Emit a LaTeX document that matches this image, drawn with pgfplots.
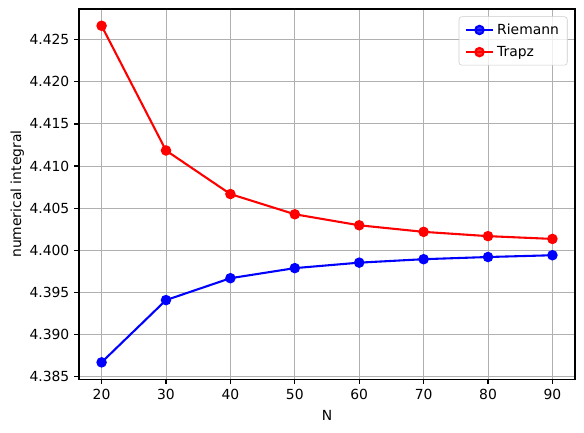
\documentclass[border=0pt]{standalone}
\usepackage{pgfplots}
\pgfplotsset{compat=1.18}
\usepackage{fontspec}
\setmainfont{DejaVu Sans}
\definecolor{gridgray}{HTML}{B0B0B0}
\definecolor{legedge}{HTML}{CCCCCC}
\begin{document}
\begin{tikzpicture}
\begin{axis}[
  scale only axis,
  width=357pt, height=266.4pt,
  xmin=16.5, xmax=93.5,
  ymin=4.38468, ymax=4.42866,
  xtick={20,30,...,90},
  ytick={4.385,4.390,4.395,4.400,4.405,4.410,4.415,4.420,4.425},
  scaled y ticks=false,
  yticklabel style={/pgf/number format/.cd, fixed, fixed zerofill, precision=3},
  /pgf/number format/assume math mode=true,
  tick label style={font=\fontsize{10}{12}\selectfont},
  label style={font=\fontsize{10}{12}\selectfont},
  xlabel={N}, ylabel={numerical integral},
  xlabel style={yshift=-1pt},
  ylabel style={yshift=-3pt},
  grid=major,
  major grid style={gridgray, line width=0.7pt},
  axis line style={line width=0.8pt},
  tick align=outside,
  major tick length=3.5pt,
  every tick/.style={black, line width=0.8pt},
  xtick pos=bottom, ytick pos=left,
  legend style={font=\fontsize{10}{12}\selectfont, draw=legedge, rounded corners=2pt, fill=white, fill opacity=0.8, text opacity=1, at={(0.985,0.98)}, anchor=north east, inner xsep=4pt, inner ysep=3pt, row sep=3pt},
  legend cell align=left,
  legend image code/.code={
    \draw[#1, mark repeat=2, mark phase=2] plot coordinates {(0pt,0pt) (10pt,0pt) (20pt,0pt)};
  },
]
\addplot[blue, line width=1.5pt, mark=*, mark size=3pt, mark options={solid}] coordinates {
(20,4.38667) (30,4.39407) (40,4.39667) (50,4.39787) (60,4.39852) (70,4.39893) (80,4.39919) (90,4.39940)
};
\addlegendentry{Riemann}
\addplot[red, line width=1.5pt, mark=*, mark size=3pt, mark options={solid}] coordinates {
(20,4.42667) (30,4.41185) (40,4.40667) (50,4.40427) (60,4.40296) (70,4.40218) (80,4.40167) (90,4.40134)
};
\addlegendentry{Trapz}
\end{axis}
\pgfresetboundingbox
\path[use as bounding box] ([xshift=-56.9pt,yshift=-38.2pt]current axis.south west) rectangle ([xshift=6.5pt,yshift=6.5pt]current axis.north east);
\end{tikzpicture}
\end{document}
